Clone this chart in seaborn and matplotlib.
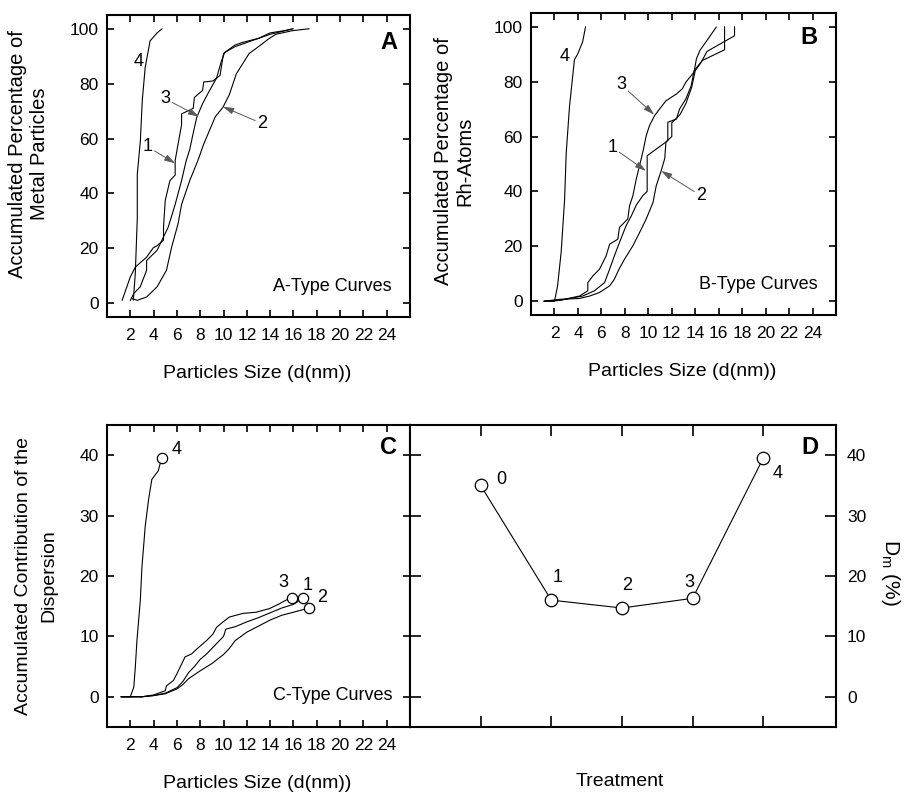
import numpy as np
import pandas as pd
import matplotlib
matplotlib.use("Agg")
import matplotlib.pyplot as plt
import seaborn as sns

# A-type curves: accumulated percentage of metal particles
a1_x = [1.3, 2.0, 2.43, 3.4, 3.97, 4.3, 4.85, 4.85, 5.0, 5.4, 5.85, 5.85, 6.1, 6.4, 6.4, 7.4, 7.5, 8.2, 8.3, 9.1, 9.7, 10.0, 10.95, 11.6, 13.0, 14.0, 15.0, 15.9]
a1_y = [1.1, 9.6, 13.2, 16.8, 20.2, 21.0, 23.0, 27.7, 37.5, 44.7, 46.7, 52.0, 58.0, 65.0, 69.0, 71.0, 75.0, 77.5, 80.6, 81.0, 83.0, 91.0, 94.0, 95.0, 96.5, 98.0, 99.0, 100.0]
a2_x = [2.15, 2.6, 3.4, 4.3, 5.1, 5.55, 6.1, 6.4, 7.1, 7.8, 8.3, 8.8, 9.3, 9.95, 10.5, 11.1, 11.65, 12.2, 13.1, 13.9, 14.5, 15.9, 17.35]
a2_y = [1.7, 1.1, 2.3, 6.0, 12.0, 20.5, 29.0, 36.0, 44.7, 52.0, 58.0, 63.0, 68.0, 71.4, 76.0, 83.6, 87.3, 91.0, 93.8, 96.4, 98.0, 99.3, 100.0]
a3_x = [2.0, 2.3, 2.85, 3.4, 3.4, 4.3, 5.25, 5.85, 6.4, 6.8, 7.1, 7.4, 7.7, 8.2, 8.8, 9.4, 9.8, 10.1, 11.0, 12.0, 13.0, 14.0, 15.5, 16.0]
a3_y = [1.0, 3.6, 6.0, 12.0, 15.6, 19.3, 27.7, 36.0, 44.7, 52.0, 56.0, 62.0, 67.7, 72.7, 77.5, 82.0, 88.0, 91.4, 93.5, 95.0, 96.5, 98.5, 99.5, 100.0]
a4_x = [2.26, 2.43, 2.6, 2.6, 2.86, 3.03, 3.28, 3.7, 4.3, 4.73]
a4_y = [1.1, 10.9, 31.0, 47.0, 59.0, 74.0, 86.0, 95.6, 98.5, 100.0]

# B-type curves: accumulated percentage of Rh atoms
b1_x = [1.1, 2.4, 4.4, 5.4, 6.27, 6.7, 7.1, 7.54, 8.1, 8.54, 8.97, 9.53, 9.9, 9.9, 11.66, 11.66, 12.4, 12.66, 13.2, 13.66, 13.9, 14.6, 16.5, 16.5]
b1_y = [0.0, 0.3, 1.9, 3.8, 6.8, 11.7, 16.5, 21.4, 27.5, 31.0, 35.0, 38.5, 40.0, 53.0, 58.5, 65.2, 66.4, 70.0, 73.7, 78.6, 84.0, 87.7, 91.6, 100.0]
b2_x = [1.1, 2.4, 4.1, 5.0, 5.84, 6.7, 7.1, 7.5, 7.97, 8.68, 9.25, 9.82, 10.4, 10.67, 11.1, 11.4, 11.5, 12.0, 12.0, 12.7, 13.2, 13.7, 14.0, 14.5, 15.0, 17.35, 17.35]
b2_y = [0.0, 0.7, 1.0, 1.9, 3.2, 5.6, 8.0, 11.7, 15.3, 20.2, 25.0, 30.0, 36.0, 42.0, 47.6, 52.0, 58.0, 60.0, 65.0, 68.0, 72.0, 78.0, 84.0, 87.0, 91.0, 96.7, 100.0]
b3_x = [1.1, 2.4, 4.13, 4.84, 4.84, 5.27, 5.84, 6.4, 6.7, 7.4, 7.54, 8.25, 8.4, 8.68, 8.97, 9.25, 9.53, 9.82, 10.1, 10.53, 10.95, 11.5, 12.4, 12.9, 13.2, 13.9, 14.1, 14.4, 14.9, 15.8]
b3_y = [0.0, 0.3, 1.9, 3.8, 6.8, 9.2, 11.7, 16.5, 20.8, 22.6, 26.9, 30.0, 34.8, 38.4, 44.5, 49.4, 54.3, 60.3, 64.0, 67.6, 70.0, 73.0, 75.5, 77.4, 79.8, 83.5, 88.3, 91.4, 94.4, 99.9]
b4_x = [1.15, 2.0, 2.26, 2.57, 2.86, 3.0, 3.28, 3.7, 3.97, 4.4, 4.65]
b4_y = [0.0, 0.0, 5.5, 18.0, 37.0, 54.0, 71.0, 88.0, 90.0, 94.5, 100.0]

# C-type curves: accumulated contribution of the dispersion
c1_x = [1.2, 3.0, 4.0, 5.0, 6.0, 6.5, 7.0, 7.5, 8.0, 8.5, 9.0, 9.5, 10.0, 10.2, 11.0, 12.0, 13.0, 14.0, 15.0, 16.0, 16.8]
c1_y = [0.0, 0.0, 0.2, 0.6, 1.5, 2.5, 4.0, 5.0, 6.2, 7.0, 8.0, 9.0, 10.0, 11.2, 11.6, 12.4, 13.1, 13.9, 14.7, 15.3, 16.3]
c2_x = [1.2, 3.0, 4.0, 5.0, 6.0, 6.5, 7.0, 8.0, 9.0, 10.0, 10.5, 11.0, 12.0, 13.0, 14.0, 15.0, 16.0, 17.35]
c2_y = [0.0, 0.0, 0.2, 0.5, 1.3, 2.0, 3.0, 4.3, 5.5, 7.0, 8.0, 9.3, 10.7, 11.7, 12.7, 13.5, 14.0, 14.7]
c3_x = [1.2, 3.0, 4.0, 5.0, 5.1, 5.7, 6.0, 6.7, 7.26, 7.7, 8.54, 9.1, 9.4, 9.96, 10.5, 11.66, 12.8, 13.94, 14.8, 15.36, 15.87]
c3_y = [0.0, 0.0, 0.3, 1.0, 1.8, 2.7, 3.8, 6.6, 7.1, 7.9, 9.3, 10.4, 11.5, 12.4, 13.2, 13.8, 14.0, 14.6, 15.4, 16.0, 16.4]
c4_x = [1.3, 2.0, 2.3, 2.43, 2.57, 2.86, 3.0, 3.28, 3.57, 3.85, 4.4, 4.7]
c4_y = [0.0, 0.0, 1.6, 4.9, 9.3, 16.0, 21.5, 28.2, 32.7, 36.0, 37.4, 39.6]

# D: mean dispersion per treatment
treatment = [0, 1, 2, 3, 4]
dm = [35.0, 16.0, 14.7, 16.3, 39.5]


def long_frame(curves):
    rows = []
    for name, (xs, ys) in curves.items():
        for x, y in zip(xs, ys):
            rows.append((name, x, y))
    return pd.DataFrame(rows, columns=["curve", "d", "v"])


dfA = long_frame({"1": (a1_x, a1_y), "2": (a2_x, a2_y), "3": (a3_x, a3_y), "4": (a4_x, a4_y)})
dfB = long_frame({"1": (b1_x, b1_y), "2": (b2_x, b2_y), "3": (b3_x, b3_y), "4": (b4_x, b4_y)})
dfC = long_frame({"1": (c1_x, c1_y), "2": (c2_x, c2_y), "3": (c3_x, c3_y), "4": (c4_x, c4_y)})
ends = dfC.groupby("curve").tail(1)

sns.set_style("ticks")
plt.rcParams["font.family"] = ["Liberation Sans", "DejaVu Sans"]
plt.rcParams["axes.linewidth"] = 1.5
plt.rcParams["axes.edgecolor"] = "black"
plt.rcParams["text.color"] = "black"
plt.rcParams["axes.labelcolor"] = "black"
plt.rcParams["xtick.color"] = "black"
plt.rcParams["ytick.color"] = "black"

fig = plt.figure(figsize=(9.09, 7.92), dpi=100)
axA = fig.add_axes([0.1177, 0.5997, 0.3333, 0.3813])
axB = fig.add_axes([0.5842, 0.6023, 0.3355, 0.3813])
axC = fig.add_axes([0.1177, 0.0821, 0.3333, 0.3813])
axD = fig.add_axes([0.4510, 0.0821, 0.4687, 0.3813])

XLAB = 14
YLAB = 14.5
ANN = 13
TICK = 12.5
arrow = dict(arrowstyle="-|>,head_length=0.5,head_width=0.15", color="0.35", lw=0.7, shrinkA=0, shrinkB=0)
tbox = dict(boxstyle="square,pad=0.1", fc="none", ec="none")

for ax, df in [(axA, dfA), (axB, dfB), (axC, dfC)]:
    sns.lineplot(data=df, x="d", y="v", units="curve", estimator=None, sort=False,
                 color="black", lw=0.8, ax=ax)
    ax.set_xlim(0, 26)
    ax.set_xticks(np.arange(2, 25, 2))
    ax.tick_params(direction="in", top=True, right=True, length=5, width=1.2,
                   labelsize=TICK)
    ax.tick_params(axis="x", pad=8)
    ax.tick_params(axis="y", pad=6)
    ax.set_xlabel("Particles Size (d(nm))", fontsize=XLAB)
    ax.xaxis.set_label_coords(0.497, -0.16)

for ax in (axA, axB):
    ax.set_ylim(-5, 105)
    ax.set_yticks(np.arange(0, 101, 20))

# panel A
axA.set_ylabel("Accumulated Percentage of\nMetal Particles", fontsize=YLAB)
axA.yaxis.set_label_coords(-0.26, 0.54)
axA.yaxis.label.set_va("center")
axA.text(0.957, 0.91, "A", transform=axA.transAxes, ha="right", va="center",
         fontsize=17, fontweight="bold")
axA.text(0.94, 0.1, "A-Type Curves", transform=axA.transAxes, ha="right", va="center", fontsize=ANN)
axA.text(2.7, 88, "4", ha="center", va="center", fontsize=ANN)
axA.annotate("1", xy=(5.85, 51), xytext=(3.5, 57), ha="center", va="center", fontsize=ANN,
             arrowprops=arrow, bbox=tbox)
axA.annotate("3", xy=(7.9, 68), xytext=(5.0, 74.5), ha="center", va="center", fontsize=ANN,
             arrowprops=arrow, bbox=tbox)
axA.annotate("2", xy=(9.95, 71.6), xytext=(13.3, 65.5), ha="center", va="center", fontsize=ANN,
             arrowprops=arrow, bbox=tbox)

# panel B
axB.set_ylabel("Accumulated Percentage of\nRh-Atoms", fontsize=YLAB)
axB.yaxis.set_label_coords(-0.252, 0.51)
axB.yaxis.label.set_va("center")
axB.text(0.94, 0.92, "B", transform=axB.transAxes, ha="right", va="center",
         fontsize=17, fontweight="bold")
axB.text(0.94, 0.1, "B-Type Curves", transform=axB.transAxes, ha="right", va="center", fontsize=ANN)
axB.text(2.85, 89, "4", ha="center", va="center", fontsize=ANN)
axB.annotate("3", xy=(10.5, 68), xytext=(7.7, 78.8), ha="center", va="center", fontsize=ANN,
             arrowprops=arrow, bbox=tbox)
axB.annotate("1", xy=(9.8, 47.5), xytext=(6.95, 56), ha="center", va="center", fontsize=ANN,
             arrowprops=arrow, bbox=tbox)
axB.annotate("2", xy=(11.1, 47.5), xytext=(14.5, 38.4), ha="center", va="center", fontsize=ANN,
             arrowprops=arrow, bbox=tbox)

# panel C
sns.scatterplot(data=ends, x="d", y="v", s=55, facecolor="white", edgecolor="black",
                linewidth=0.9, zorder=5, ax=axC)
axC.set_ylim(-5, 45)
axC.set_yticks(np.arange(0, 41, 10))
axC.set_ylabel("Accumulated Contribution of the\nDispersion", fontsize=14, linespacing=1.7)
axC.yaxis.set_label_coords(-0.234, 0.5)
axC.yaxis.label.set_va("center")
axC.text(0.957, 0.924, "C", transform=axC.transAxes, ha="right", va="center",
         fontsize=17, fontweight="bold")
axC.text(0.944, 0.103, "C-Type Curves", transform=axC.transAxes, ha="right", va="center", fontsize=ANN)
axC.text(6.0, 41, "4", ha="center", va="center", fontsize=ANN)
axC.text(15.1, 19, "3", ha="center", va="center", fontsize=ANN)
axC.text(17.2, 18.5, "1", ha="center", va="center", fontsize=ANN)
axC.text(18.45, 16.5, "2", ha="center", va="center", fontsize=ANN)

# panel D
sns.lineplot(x=treatment, y=dm, color="black", lw=0.8, marker="o", markersize=9,
             markerfacecolor="white", markeredgecolor="black", markeredgewidth=0.9, ax=axD)
axD.set_xlim(-1, 5.03)
axD.set_ylim(-5, 45)
axD.set_xticks(treatment)
axD.set_yticks(np.arange(0, 41, 10))
axD.tick_params(direction="in", top=True, bottom=True, left=True, right=True,
                labelbottom=False, labelleft=False, labelright=True,
                length=8, width=1.2, labelsize=TICK, pad=8)
axD.set_xlabel("Treatment", fontsize=XLAB)
axD.xaxis.set_label_coords(0.493, -0.152)
axD.yaxis.set_label_position("right")
axD.set_ylabel("D$_\\mathregular{m}$ (%)", fontsize=YLAB + 0.5, rotation=270)
axD.yaxis.set_label_coords(1.127, 0.51)
axD.yaxis.label.set_va("center")
axD.text(0.958, 0.927, "D", transform=axD.transAxes, ha="right", va="center",
         fontsize=17, fontweight="bold")
for t, v, dx, dy in zip(treatment, dm, [0.29, 0.09, 0.07, -0.04, 0.2], [1.0, 3.7, 3.8, 2.7, -2.5]):
    axD.text(t + dx, v + dy, str(t), ha="center", va="center", fontsize=ANN)

fig.savefig("out.png", dpi=100)
